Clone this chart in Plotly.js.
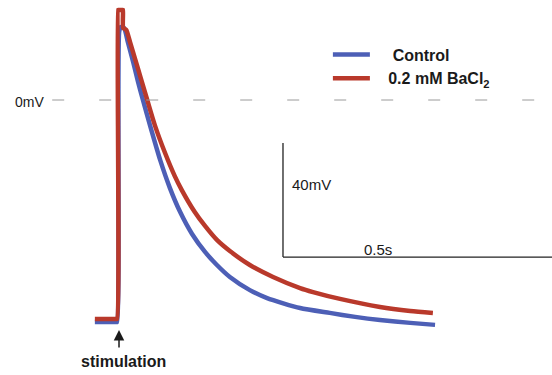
<!DOCTYPE html>
<html>
<head>
<meta charset="utf-8">
<script src="https://cdn.plot.ly/plotly-3.0.1.min.js"></script>
<style>html,body{margin:0;padding:0;background:#fff;}#chart{width:552px;height:375px;}</style>
</head>
<body>
<div id="chart"></div>
<script>
// Time in ms (stimulation at 0), membrane potential in mV
const controlT = [-41, -20, -2, 0, 4, 7, 13, 20, 30, 39, 48, 61, 80, 98, 117, 139, 163, 185, 209, 246, 278, 339, 394, 441, 487, 543, 589];
const controlV = [-77.9, -77.9, -77.9, -77.9, 23.9, 25.6, 25.3, 20.4, 13.3, 6.3, 0, -8.8, -21.1, -30.9, -39.3, -47.0, -53.3, -57.9, -62.1, -66.7, -69.5, -73.0, -74.7, -76.1, -77.2, -78.2, -78.9];

const bacl2T = [-41, -2, 0, 2, 2.5, 10.5, 11, 11.5, 17, 24, 33, 44, 56, 70, 89, 107, 120, 144, 163, 185, 209, 246, 289, 339, 363, 413, 487, 543, 585];
const bacl2V = [-76.8, -76.8, -76.8, 31.6, 31.6, 31.6, 31.6, 25.3, 24.6, 20.4, 14.7, 7.7, 0, -8.8, -18.6, -26.7, -31.6, -39.3, -44.2, -49.1, -53.0, -57.9, -62.1, -66.0, -67.4, -69.8, -72.6, -74.0, -74.7];

const seriesNames = ['\u00a0\u00a0\u00a0\u00a0Control', '\u00a0\u00a0\u00a00.2 mM BaCl<sub>2</sub>'];
const seriesColors = ['#4d5fb6', '#b9392b'];

// Scale bar: 0.5 s horizontal, 40 mV vertical
const scaleBarOrigin = [307.4, -55.1];
const scaleBarTime = 500;
const scaleBarVolt = 40;
const scaleLabels = ['0.5s', '40mV'];
const zeroLabel = '0mV';
const stimLabel = 'stimulation';

const font = 'Liberation Sans, Arial, sans-serif';

const traces = [
  {x: controlT, y: controlV, name: seriesNames[0], mode: 'lines', line: {color: seriesColors[0], width: 4.5, shape: 'spline', smoothing: 0.6}},
  {x: bacl2T, y: bacl2V, name: seriesNames[1], mode: 'lines', line: {color: seriesColors[1], width: 4.5, shape: 'spline', smoothing: 0.6}}
];

const layout = {
  width: 552, height: 375,
  margin: {l: 0, r: 0, t: 0, b: 0},
  paper_bgcolor: '#ffffff', plot_bgcolor: '#ffffff',
  font: {family: font, color: '#1a1a1a'},
  xaxis: {range: [-216.7, 805.6], visible: false, fixedrange: true},
  yaxis: {range: [-96.49, 35.09], visible: false, fixedrange: true},
  showlegend: true,
  legend: {x: 0.594, y: 0.9, xanchor: 'left', yanchor: 'top', font: {family: font, size: 16, weight: 'bold', color: '#1a1a1a'}, bgcolor: 'rgba(0,0,0,0)', itemwidth: 37},
  shapes: [
    {type: 'line', xref: 'x', yref: 'y', x0: -120, x1: 805.6, y0: 0, y1: 0, line: {color: '#9a9a9a', width: 1, dash: '12px,35px'}},
    {type: 'line', xref: 'x', yref: 'y', x0: scaleBarOrigin[0], x1: scaleBarOrigin[0], y0: scaleBarOrigin[1], y1: scaleBarOrigin[1] + scaleBarVolt, line: {color: '#222', width: 1.3}},
    {type: 'line', xref: 'x', yref: 'y', x0: scaleBarOrigin[0], x1: scaleBarOrigin[0] + scaleBarTime, y0: scaleBarOrigin[1], y1: scaleBarOrigin[1], line: {color: '#222', width: 1.3}}
  ],
  annotations: [
    {x: -192.6, y: -0.7, xref: 'x', yref: 'y', text: zeroLabel, showarrow: false, xanchor: 'left', yanchor: 'middle', font: {size: 14, family: font, color: '#1a1a1a'}},
    {x: 320.4, y: -29.8, xref: 'x', yref: 'y', text: scaleLabels[1], showarrow: false, xanchor: 'left', yanchor: 'middle', font: {size: 15, family: font, color: '#1a1a1a'}},
    {x: 483.3, y: -52.6, xref: 'x', yref: 'y', text: scaleLabels[0], showarrow: false, xanchor: 'center', yanchor: 'middle', font: {size: 15, family: font, color: '#1a1a1a'}},
    {x: 11.1, y: -91.9, xref: 'x', yref: 'y', text: stimLabel, showarrow: false, xanchor: 'center', yanchor: 'middle', font: {size: 16, family: font, weight: 'bold', color: '#1a1a1a'}},
    {x: 3.7, y: -80.7, xref: 'x', yref: 'y', text: '', showarrow: true, ax: 0, ay: 19, arrowhead: 2, arrowsize: 1.4, arrowwidth: 1.5, arrowcolor: '#1a1a1a'}
  ]
};

Plotly.newPlot('chart', traces, layout, {displayModeBar: false, staticPlot: true});
</script>
</body>
</html>
